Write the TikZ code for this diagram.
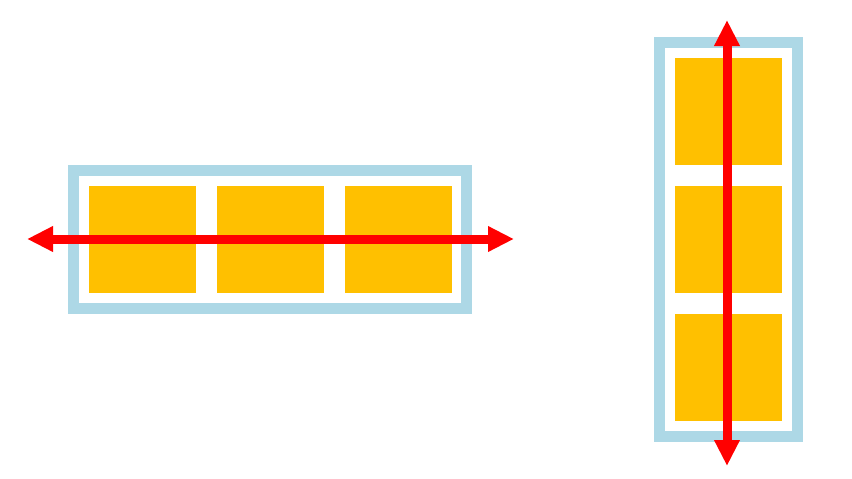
\documentclass[tikz,border=0pt]{standalone}
\usetikzlibrary{arrows.meta}
\definecolor{boxblue}{HTML}{ADD8E6}
\definecolor{itemorange}{HTML}{FFC000}
\definecolor{axisred}{HTML}{FF0000}
\tikzset{
  container/.style={draw=boxblue, line width=11pt, fill=white, inner sep=0pt, outer sep=0pt},
  item/.style={fill=itemorange, draw=none, inner sep=0pt, outer sep=0pt, minimum width=107pt, minimum height=107pt},
  axis/.style={draw=axisred, line width=9pt, {Triangle[length=26pt,width=24pt]}-{Triangle[length=26pt,width=24pt]}}
}
\begin{document}
\begin{tikzpicture}[x=1pt,y=-1pt]
\useasboundingbox (0,0) rectangle (852,479);
% row container
\node[container, minimum width=393pt, minimum height=138pt] (c1) at (270,239.5) {};
\node[item, anchor=north west] (b1) at (89,186) {};
\node[item, anchor=north west] (b2) at (217,186) {};
\node[item, anchor=north west] (b3) at (345,186) {};
\coordinate (l1) at (27,239);
\coordinate (r1) at (514,239);
\draw[axis] (l1) -- (r1);
% column container
\node[container, minimum width=138pt, minimum height=394pt] (c2) at (728.5,239.5) {};
\node[item, anchor=north west] (d1) at (675,58) {};
\node[item, anchor=north west] (d2) at (675,186) {};
\node[item, anchor=north west] (d3) at (675,314) {};
\coordinate (t2) at (727,20);
\coordinate (u2) at (727,466);
\draw[axis] (t2) -- (u2);
\end{tikzpicture}
\end{document}
